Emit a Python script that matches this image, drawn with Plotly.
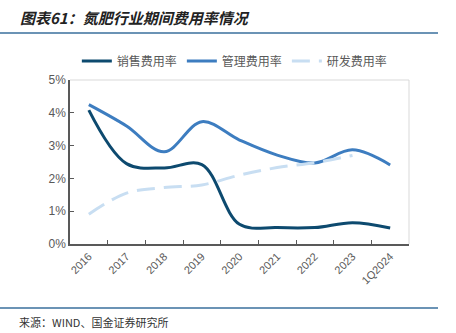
import plotly.graph_objects as go

categories = ["2016", "2017", "2018", "2019", "2020", "2021", "2022", "2023", "1Q2024"]
sales = [4.08, 2.45, 2.32, 2.42, 0.6, 0.5, 0.5, 0.65, 0.49]
admin = [4.25, 3.6, 2.81, 3.73, 3.17, 2.71, 2.47, 2.87, 2.41]
rnd = [0.91, 1.55, 1.72, 1.8, 2.1, 2.33, 2.48, 2.7, None]
names = ["销售费用率", "管理费用率", "研发费用率"]

font_cjk = "Noto Sans CJK SC, Noto Sans, sans-serif"

fig = go.Figure()
fig.add_trace(go.Scatter(x=categories, y=sales, name=names[0], mode="lines",
                         line=dict(color="#0D4A6F", width=3, shape="spline", smoothing=1.0)))
fig.add_trace(go.Scatter(x=categories, y=admin, name=names[1], mode="lines",
                         line=dict(color="#3D7DC0", width=3, shape="spline", smoothing=1.0)))
fig.add_trace(go.Scatter(x=categories, y=rnd, name=names[2], mode="lines",
                         line=dict(color="#C8DEF2", width=3, shape="spline", smoothing=1.0, dash="18px,9px")))

L, R, T, B = 70, 409, 80, 244
W, H = 456, 333
def px(x):
    return (x - L) / (R - L)
def py(y):
    return (B - y) / (B - T)

fig.update_layout(
    width=W, height=H,
    margin=dict(l=L, r=W - R, t=T, b=H - B, autoexpand=False),
    paper_bgcolor="white", plot_bgcolor="white",
    font=dict(family=font_cjk, color="#595959", size=11),
    showlegend=True,
    legend=dict(orientation="h", xref="container", yref="container", x=0.515, xanchor="center",
                y=1 - 61 / H, yanchor="middle",
                font=dict(size=12, color="#595959"), tracegroupgap=0,
                bgcolor="rgba(0,0,0,0)"),
    xaxis=dict(type="category", showgrid=False, showline=True, linecolor="#595959", linewidth=1.5,
               ticks="inside", tickson="boundaries", ticklen=4, tickcolor="#595959",
               tickangle=-45, tickfont=dict(size=11, color="#595959", family="Liberation Sans, Arial, sans-serif"),
               range=[-0.5, 8.5], automargin=False),
    yaxis=dict(range=[0, 5], dtick=1, ticksuffix="%", showgrid=False, showline=True,
               linecolor="#595959", linewidth=1.5, ticks="inside", ticklen=4, tickcolor="#595959",
               tickfont=dict(size=12, color="#595959", family="Liberation Sans, Arial, sans-serif"),
               zeroline=False, automargin=False),
    shapes=[
        dict(type="line", xref="paper", yref="paper", x0=0, x1=1, y0=1, y1=1,
             line=dict(color="#D9D9D9", width=1)),
        dict(type="line", xref="paper", yref="paper", x0=1, x1=1, y0=0, y1=1,
             line=dict(color="#D9D9D9", width=1)),
        dict(type="line", xref="paper", yref="paper", x0=px(0), x1=px(438), y0=py(33), y1=py(33),
             line=dict(color="#3A6F9C", width=1.5)),
        dict(type="line", xref="paper", yref="paper", x0=px(0), x1=px(438), y0=py(308), y1=py(308),
             line=dict(color="#3A6F9C", width=1.5)),
    ],
    annotations=[
        dict(text="<b><i>图表61：氮肥行业期间费用率情况</i></b>", xref="paper", yref="paper",
             x=px(18), y=py(17), xanchor="left", yanchor="middle", showarrow=False,
             font=dict(size=15, color="#222222", family=font_cjk)),
        dict(text="来源：WIND、国金证券研究所", xref="paper", yref="paper",
             x=px(17), y=py(322), xanchor="left", yanchor="middle", showarrow=False,
             font=dict(size=11, color="#333333", family=font_cjk)),
    ],
)

fig.write_html("out.html")
